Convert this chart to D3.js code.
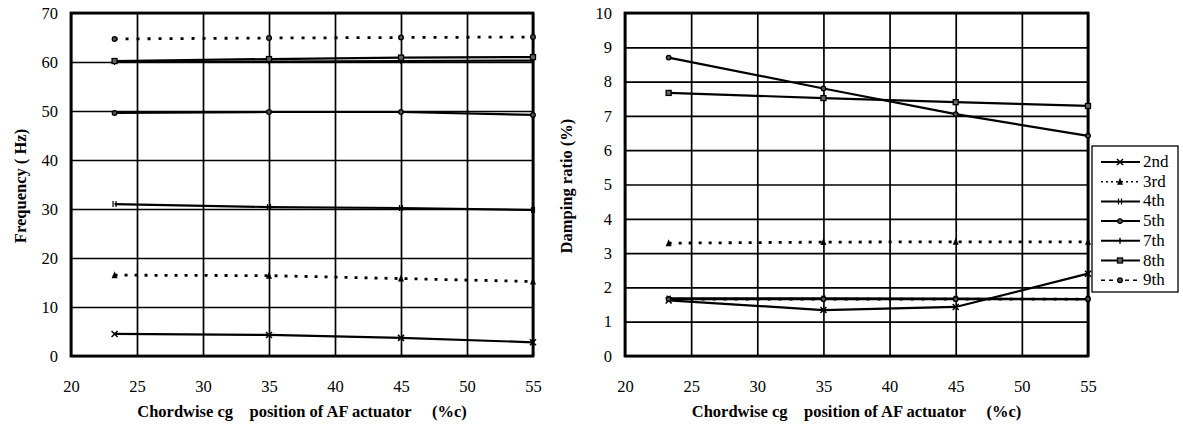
<!DOCTYPE html>
<html lang="en">
<head>
<meta charset="UTF-8">
<title>AF actuator position</title>
<script src="https://d3js.org/d3.v7.min.js"></script>
<style>
  * { margin: 0; padding: 0; }
  body { background: #fff; }
  svg text { font-family: "Liberation Serif", "Times New Roman", Times, serif; fill: #000; }
</style>
</head>
<body>
<svg width="1183" height="430"></svg>
<script>
// chordwise cg position of AF actuator (%c)
var positions = [23.3, 35, 45, 55];
var modes = ["2nd", "3rd", "4th", "5th", "7th", "8th", "9th"];
var xTicks = [20, 25, 30, 35, 40, 45, 50, 55];
var freqTicks = [0, 10, 20, 30, 40, 50, 60, 70];
var dampTicks = [0, 1, 2, 3, 4, 5, 6, 7, 8, 9, 10];

// frequency (Hz), one row per mode
var frequency = [
    [4.5, 4.3, 3.7, 2.8],
    [16.5, 16.4, 15.8, 15.2],
    [31.0, 30.4, 30.2, 29.8],
    [49.6, 49.8, 49.8, 49.2],
    [60.0, 60.1, 60.2, 60.3],
    [60.2, 60.6, 60.9, 61.0],
    [64.7, 64.9, 65.0, 65.1]
];
// damping ratio (%), one row per mode
var damping = [
    [1.62, 1.34, 1.43, 2.40],
    [3.29, 3.32, 3.33, 3.33],
    [1.68, 1.68, 1.67, 1.66],
    [8.70, 7.80, 7.05, 6.42],
    [1.66, 1.66, 1.66, 1.66],
    [7.67, 7.52, 7.40, 7.29],
    [1.66, 1.66, 1.66, 1.66]
];

// line dash + marker per mode (same order as modes)
var dashes = [null, "3,7", null, null, null, null, "3,8"];
var markers = ["x", "tri", "bar", "circle", "plus", "square", "circle"];

var svg = d3.select("svg");

function drawMarker(g, type, x, y) {
    var s = 3;
    if (type == "x") {
        g.append("path").attr("d", "M" + (x - s) + "," + (y - s) + "L" + (x + s) + "," + (y + s) +
            "M" + (x - s) + "," + (y + s) + "L" + (x + s) + "," + (y - s))
            .attr("stroke", "#000").attr("stroke-width", 1.5);
    } else if (type == "tri") {
        g.append("path").attr("d", "M" + x + "," + (y - s - 1) + "L" + (x + s) + "," + (y + s) + "L" + (x - s) + "," + (y + s) + "Z")
            .attr("fill", "#000");
    } else if (type == "bar") {
        g.append("path").attr("d", "M" + (x - 1.5) + "," + (y - s) + "V" + (y + s) + "M" + (x + 1.5) + "," + (y - s) + "V" + (y + s))
            .attr("stroke", "#000").attr("stroke-width", 1.2);
    } else if (type == "circle") {
        g.append("circle").attr("cx", x).attr("cy", y).attr("r", 2.3)
            .attr("fill", "#555").attr("stroke", "#000").attr("stroke-width", 1.3);
    } else if (type == "plus") {
        g.append("path").attr("d", "M" + x + "," + (y - s) + "V" + (y + s))
            .attr("stroke", "#000").attr("stroke-width", 1.4);
    } else if (type == "square") {
        g.append("rect").attr("x", x - 2.5).attr("y", y - 2.5).attr("width", 5).attr("height", 5)
            .attr("fill", "#666").attr("stroke", "#000").attr("stroke-width", 1.3);
    }
}

function drawPanel(opt) {
    var x = d3.scaleLinear().domain([20, 55]).range([opt.left, opt.right]);
    var y = d3.scaleLinear().domain(opt.yDomain).range([356, 13]);
    var g = svg.append("g");

    // grid
    g.append("g").attr("transform", "translate(0,356)")
        .call(d3.axisBottom(x).tickValues(xTicks).tickSize(-343).tickFormat(""))
        .call(function (a) {
            a.select(".domain").remove();
            a.selectAll("line").attr("stroke", "#000").attr("stroke-width", 1.7);
        });
    g.append("g").attr("transform", "translate(" + opt.left + ",0)")
        .call(d3.axisLeft(y).tickValues(opt.yTicks).tickSize(-(opt.right - opt.left)).tickFormat(""))
        .call(function (a) {
            a.select(".domain").remove();
            a.selectAll("line").attr("stroke", "#000").attr("stroke-width", 1.7);
        });

    // tick labels
    g.append("g").attr("transform", "translate(0,356)")
        .call(d3.axisBottom(x).tickValues(xTicks).tickSize(0).tickPadding(24))
        .call(function (a) {
            a.select(".domain").remove();
            a.attr("font-family", null);
            a.selectAll("text").attr("font-size", 16.5);
        });
    g.append("g").attr("transform", "translate(" + opt.left + ",0)")
        .call(d3.axisLeft(y).tickValues(opt.yTicks).tickSize(0).tickPadding(13))
        .call(function (a) {
            a.select(".domain").remove();
            a.attr("font-family", null);
            a.selectAll("text").attr("font-size", 16.5);
        });

    // frame
    g.append("rect").attr("x", opt.left).attr("y", 13)
        .attr("width", opt.right - opt.left).attr("height", 343)
        .attr("fill", "none").attr("stroke", "#000").attr("stroke-width", 2.8);

    // series
    var line = d3.line().x(function (d) { return x(d[0]); }).y(function (d) { return y(d[1]); });
    opt.values.forEach(function (row, i) {
        var pts = positions.map(function (p, j) { return [p, row[j]]; });
        g.append("path").attr("d", line(pts)).attr("fill", "none")
            .attr("stroke", "#000").attr("stroke-width", dashes[i] ? 2.8 : 2.2)
            .attr("stroke-dasharray", dashes[i]);
        pts.forEach(function (p) { drawMarker(g, markers[i], x(p[0]), y(p[1])); });
    });

    // titles
    g.append("text").attr("x", (opt.left + opt.right) / 2).attr("y", 417)
        .attr("text-anchor", "middle").attr("font-size", 16.5).attr("font-weight", "bold")
        .attr("xml:space", "preserve")
        .text("Chordwise cg    position of AF actuator     (%c)");
    g.append("text")
        .attr("transform", "translate(" + opt.titleX + ",186) rotate(-90)")
        .attr("text-anchor", "middle").attr("font-size", 16.5).attr("font-weight", "bold")
        .attr("xml:space", "preserve")
        .text(opt.title);
}

drawPanel({ left: 71, right: 533, yDomain: [0, 70], yTicks: freqTicks, values: frequency,
    title: "Frequency ( Hz)", titleX: 26 });
drawPanel({ left: 625, right: 1088, yDomain: [0, 10], yTicks: dampTicks, values: damping,
    title: "Damping ratio (%)", titleX: 572 });

// legend
var legend = svg.append("g");
legend.append("rect").attr("x", 1092).attr("y", 146).attr("width", 86).attr("height", 146)
    .attr("fill", "#fff").attr("stroke", "#000").attr("stroke-width", 1.3);
modes.forEach(function (m, i) {
    var ly = 162 + i * 19.7;
    legend.append("line").attr("x1", 1101).attr("x2", 1140).attr("y1", ly).attr("y2", ly)
        .attr("stroke", "#000").attr("stroke-width", dashes[i] ? 1.6 : 2)
        .attr("stroke-dasharray", dashes[i] ? (i == 1 ? "2,3" : "4,4") : null);
    drawMarker(legend, markers[i], 1120, ly);
    legend.append("text").attr("x", 1143).attr("y", ly + 5).attr("font-size", 17).text(m);
});
</script>
</body>
</html>
